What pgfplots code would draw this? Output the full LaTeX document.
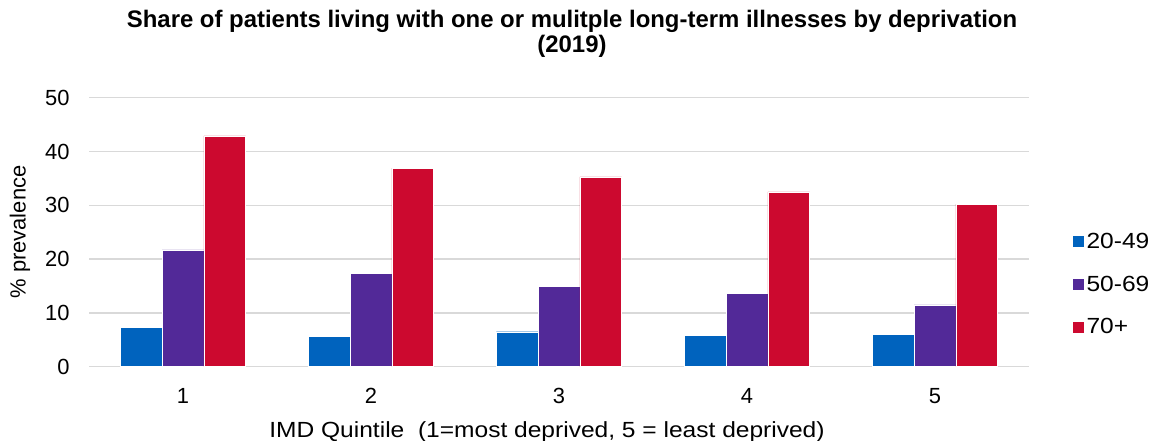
\documentclass[border=0pt]{standalone}
\usepackage{pgfplots}
\pgfplotsset{compat=1.18}
\usepackage{fontspec}
\setmainfont{Liberation Sans}
\newfontfamily\widefont[FakeStretch=1.12]{Liberation Sans}
\definecolor{cblue}{RGB}{0,99,190}
\definecolor{cpurple}{RGB}{82,41,152}
\definecolor{cred}{RGB}{204,9,47}
\definecolor{gridc}{RGB}{217,217,217}
\begin{document}
\begin{tikzpicture}[x=1bp,y=1bp]
\path[use as bounding box] (0,0) rectangle (1152,441);
\begin{axis}[
  at={(89bp,74.3bp)}, anchor=south west,
  scale only axis, width=940bp, height=269bp,
  ybar=0pt, bar width=41.7bp,
  xmin=0.5, xmax=5.5, ymin=0, ymax=50,
  xtick={1,2,3,4,5}, ytick={0,10,20,30,40,50},
  axis line style={draw=none},
  xmajorgrids=false, ymajorgrids=true,
  y grid style={gridc, line width=1.3bp},
  major tick length=0pt,
  tick label style={font=\fontsize{22}{26}\selectfont},
  /pgf/number format/assume math mode=true,
  yticklabel style={xshift=-16bp},
  xticklabel style={yshift=-18bp},
  legend style={at={(1.0457,0.307)}, anchor=west, draw=none, fill=none,
    font=\widefont\fontsize{22}{26}\selectfont, inner sep=0pt,
    row sep=22bp, nodes={inner sep=2bp}},
  legend cell align=left,
  legend image code/.code={\fill (0bp,-6bp) rectangle (12bp,6bp);},
]
\addplot[fill=cblue, draw=white, line width=0.4bp] coordinates {(1,7.25) (2,5.7) (3,6.5) (4,5.8) (5,6.0)};
\addplot[fill=cpurple, draw=white, line width=0.4bp] coordinates {(1,21.7) (2,17.4) (3,14.9) (4,13.6) (5,11.5)};
\addplot[fill=cred, draw=white, line width=0.4bp] coordinates {(1,42.9) (2,36.9) (3,35.3) (4,32.5) (5,30.2)};
\legend{20-49,50-69,70+}
\end{axis}
\node[font=\bfseries\fontsize{24}{25}\selectfont, align=center] at (572,407) {Share of patients living with one or mulitple long-term illnesses by deprivation\\(2019)};
\node[font=\fontsize{22}{26}\selectfont, rotate=90] at (20,209) {\% prevalence};
\node[font=\widefont\fontsize{22}{26}\selectfont] at (547,9) {IMD Quintile\ \ (1=most deprived, 5 = least deprived)};
\end{tikzpicture}
\end{document}
